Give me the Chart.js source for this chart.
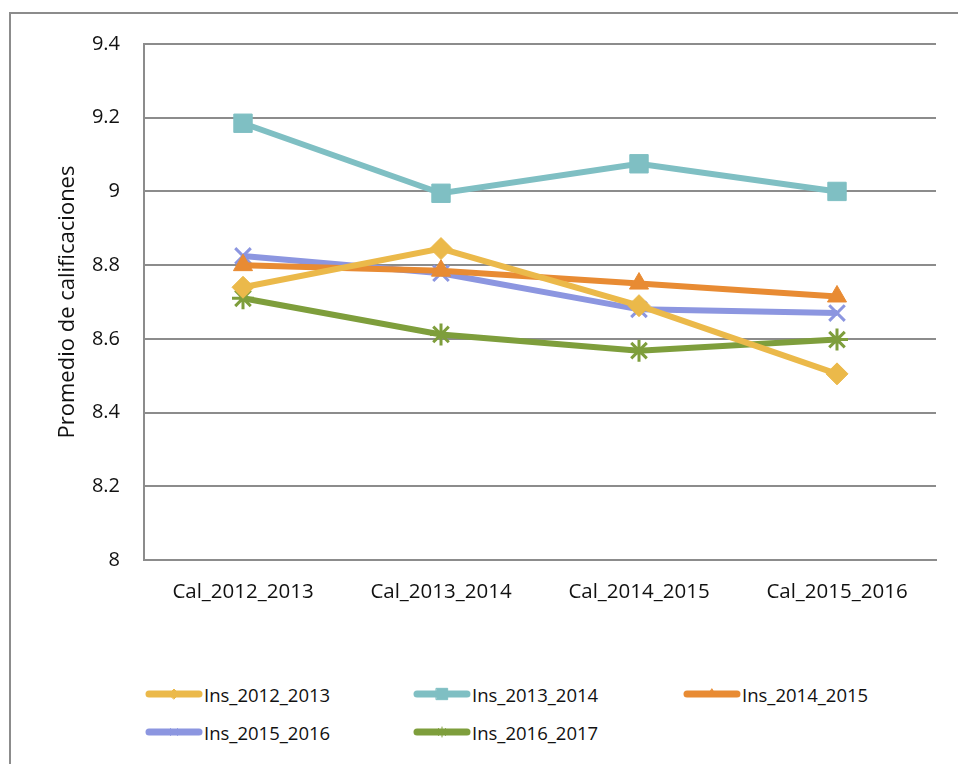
<!DOCTYPE html>
<html>
<head>
<meta charset="utf-8">
<script src="https://cdn.jsdelivr.net/npm/chart.js@4/dist/chart.umd.min.js"></script>
<style>
  html, body { margin: 0; padding: 0; background: #fff; overflow: hidden; }
  #frame { position: absolute; left: 9px; top: 12px; width: 1000px; height: 800px;
           border-left: 2px solid #8c8c8c; border-top: 2px solid #8c8c8c; }
  #wrap { position: absolute; left: 0; top: 0; width: 958px; height: 640px; }
  #legend { position: absolute; left: 145px; top: 679px; width: 800px;
            font-family: "Open Sans", sans-serif; font-size: 18.5px; color: #111; }
  .item { position: absolute; display: flex; align-items: center; height: 30px; }
  .item canvas { display: block; margin-right: 1px; }
</style>
</head>
<body>
<div id="frame"></div>
<div id="wrap"><canvas id="myChart"></canvas></div>
<div id="legend"></div>
<script>
// categorias y series
var categories = ['Cal_2012_2013', 'Cal_2013_2014', 'Cal_2014_2015', 'Cal_2015_2016'];
var ins_2012_2013 = [8.74, 8.845, 8.69, 8.505];
var ins_2013_2014 = [9.185, 8.995, 9.075, 9.0];
var ins_2014_2015 = [8.80, 8.785, 8.75, 8.715];
var ins_2015_2016 = [8.825, 8.778, 8.68, 8.67];
var ins_2016_2017 = [8.71, 8.612, 8.568, 8.598];

var fontFamily = '"Open Sans", sans-serif';

function serie(label, data, color, style, radius) {
    return {
        label: label,
        data: data,
        borderColor: color,
        backgroundColor: color,
        borderWidth: 6,
        pointStyle: style,
        pointRadius: radius,
        pointBorderWidth: style == 'crossRot' || style == 'star' ? 3 : 1,
        pointBorderColor: color,
        pointBackgroundColor: color,
        tension: 0
    };
}

var datasets = [
    serie('Ins_2012_2013', ins_2012_2013, '#EBB94A', 'rectRot', 11),
    serie('Ins_2013_2014', ins_2013_2014, '#7FBFC3', 'rect', 13),
    serie('Ins_2014_2015', ins_2014_2015, '#E88B33', 'triangle', 11),
    serie('Ins_2015_2016', ins_2015_2016, '#8C96E0', 'crossRot', 11),
    serie('Ins_2016_2017', ins_2016_2017, '#7E9E3C', 'star', 11)
];

var ctx = document.getElementById('myChart');

var myChart = new Chart(ctx, {
    type: 'line',
    data: { labels: categories, datasets: datasets },
    options: {
        responsive: true,
        maintainAspectRatio: false,
        animation: false,
        layout: { padding: { top: 44, right: 22, left: 0, bottom: 0 } },
        plugins: { legend: { display: false }, tooltip: { enabled: false } },
        scales: {
            x: {
                offset: true,
                grid: { display: false, drawTicks: false },
                border: { display: true, color: '#8c8c8c', width: 2 },
                ticks: { color: '#111', padding: 20, font: { family: fontFamily, size: 20.5 } },
                afterFit: function(scale) { scale.height = 80; }
            },
            y: {
                min: 8,
                max: 9.4,
                ticks: {
                    stepSize: 0.2, color: '#111', padding: 24,
                    font: { family: fontFamily, size: 20 },
                    callback: function(value) { return String(Number(value.toFixed(1))); }
                },
                grid: { color: '#8c8c8c', lineWidth: 2, drawTicks: false },
                border: { display: true, color: '#8c8c8c', width: 2 },
                title: {
                    display: true,
                    text: 'Promedio de calificaciones',
                    color: '#111',
                    font: { family: fontFamily, size: 22 },
                    padding: { top: 55, bottom: 0 }
                },
                afterFit: function(scale) { scale.width = 144; }
            }
        }
    }
});

// leyenda en html, 3 columnas
var legend = document.getElementById('legend');
var colX = [0, 268, 538];
datasets.forEach(function(ds, i) {
    var item = document.createElement('div');
    item.className = 'item';
    item.style.left = colX[i % 3] + 'px';
    item.style.top = (Math.floor(i / 3) * 38) + 'px';

    var c = document.createElement('canvas');
    c.width = 58; c.height = 20;
    var g = c.getContext('2d');
    g.strokeStyle = ds.borderColor;
    g.fillStyle = ds.borderColor;
    g.lineWidth = 7;
    g.lineCap = 'round';
    g.beginPath(); g.moveTo(4, 10); g.lineTo(54, 10); g.stroke();
    if (Chart.helpers && Chart.helpers.drawPoint) {
        g.lineWidth = 1;
        var r = ds.pointStyle == 'rect' ? 8 : 5;
        Chart.helpers.drawPoint(g, { pointStyle: ds.pointStyle, radius: r, rotation: 0, borderWidth: 1 }, 29, 10);
    }
    item.appendChild(c);

    var t = document.createElement('span');
    t.textContent = ds.label;
    item.appendChild(t);
    legend.appendChild(item);
});
</script>
</body>
</html>
